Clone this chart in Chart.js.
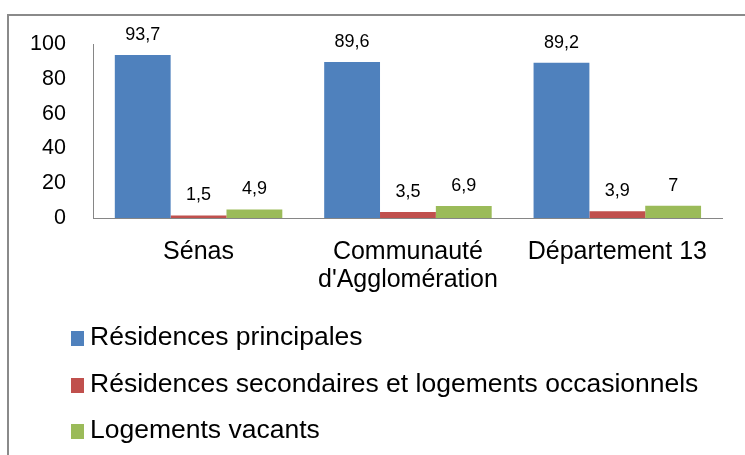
<!DOCTYPE html>
<html>
<head>
<meta charset="utf-8">
<script src="https://cdn.jsdelivr.net/npm/chart.js@4.4.1/dist/chart.umd.min.js"></script>
<style>
    body { margin: 0; background: #fff; font-family: "Liberation Sans", Arial, sans-serif; }
    #wrap { position: relative; width: 745px; height: 455px; overflow: hidden; }
    #frame { position: absolute; left: 7px; top: 14px; width: 800px; height: 500px; border: 2px solid #8a8a8a; }
    #box { position: absolute; left: 0; top: 0; width: 745px; height: 321px; }
    #legend { position: absolute; left: 71px; top: 313px; margin: 0; padding: 0; list-style: none; }
    #legend li { height: 46.5px; line-height: 46.5px; font-size: 26.5px; color: #000; white-space: nowrap; }
    #legend span.sw { display: inline-block; width: 13px; height: 15px; margin-right: 6px; vertical-align: -1px; }
</style>
</head>
<body>
<div id="wrap">
    <div id="frame"></div>
    <div id="box"><canvas id="myChart"></canvas></div>
    <ul id="legend"></ul>
</div>
<script>
const categories = ['Sénas', ['Communauté', "d'Agglomération"], 'Département 13'];
const seriesNames = [
    'Résidences principales',
    'Résidences secondaires et logements occasionnels',
    'Logements vacants'
];
const principales = [93.7, 89.6, 89.2];
const secondaires = [1.5, 3.5, 3.9];
const vacants = [4.9, 6.9, 7];
const yTicks = [0, 20, 40, 60, 80, 100];
const colors = ['#4F81BD', '#C0504D', '#9BBB59'];

// values written above each bar, french decimal comma
const barLabels = {
    id: 'barLabels',
    afterDatasetsDraw(chart) {
        const ctx = chart.ctx;
        ctx.save();
        ctx.font = '18px "Liberation Sans", Arial, sans-serif';
        ctx.fillStyle = '#000';
        ctx.textAlign = 'center';
        ctx.textBaseline = 'alphabetic';
        chart.data.datasets.forEach((ds, i) => {
            chart.getDatasetMeta(i).data.forEach((bar, j) => {
                ctx.fillText(String(ds.data[j]).replace('.', ','), bar.x, bar.y - 15);
            });
        });
        ctx.restore();
    }
};

const ctx = document.getElementById('myChart').getContext('2d');
const myChart = new Chart(ctx, {
    type: 'bar',
    data: {
        labels: categories,
        datasets: [
            { label: seriesNames[0], data: principales, backgroundColor: colors[0] },
            { label: seriesNames[1], data: secondaires, backgroundColor: colors[1] },
            { label: seriesNames[2], data: vacants, backgroundColor: colors[2] }
        ]
    },
    options: {
        responsive: true,
        maintainAspectRatio: false,
        animation: false,
        layout: { padding: { left: 2, top: 44, right: 23, bottom: 7 } },
        datasets: {
            bar: { categoryPercentage: 0.8, barPercentage: 1.0, borderWidth: 0 }
        },
        scales: {
            x: {
                grid: { display: false, drawTicks: false },
                border: { display: true, color: '#868686', width: 1 },
                ticks: {
                    color: '#000',
                    padding: 20,
                    maxRotation: 0,
                    font: { family: '"Liberation Sans", Arial, sans-serif', size: 25, lineHeight: 1.12 }
                }
            },
            y: {
                min: 0,
                max: 100,
                afterBuildTicks: (scale) => { scale.ticks = yTicks.map(v => ({ value: v })); },
                grid: { display: false, drawTicks: false },
                border: { display: true, color: '#868686', width: 1 },
                ticks: {
                    color: '#000',
                    padding: 28,
                    font: { family: '"Liberation Sans", Arial, sans-serif', size: 21.5 }
                }
            }
        },
        plugins: {
            legend: { display: false },
            tooltip: { enabled: false }
        }
    },
    plugins: [barLabels]
});

// legend as a plain list under the chart
const legendList = document.getElementById('legend');
myChart.data.datasets.forEach((ds) => {
    const li = document.createElement('li');
    const sw = document.createElement('span');
    sw.className = 'sw';
    sw.style.background = ds.backgroundColor;
    li.appendChild(sw);
    li.appendChild(document.createTextNode(ds.label));
    legendList.appendChild(li);
});
</script>
</body>
</html>
